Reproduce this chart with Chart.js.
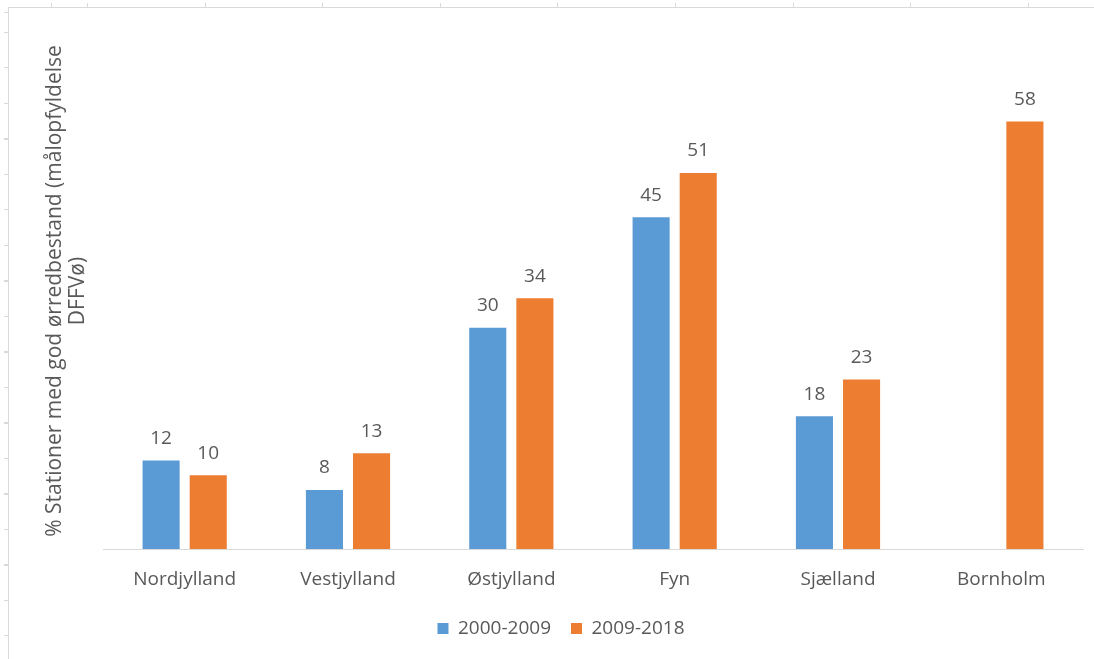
<!DOCTYPE html>
<html>
<head>
<meta charset="utf-8">
<script src="https://cdn.jsdelivr.net/npm/chart.js@4/dist/chart.umd.min.js"></script>
<style>
  html, body { margin: 0; padding: 0; background: #fff; }
  #wrap { position: relative; width: 1094px; height: 659px; overflow: hidden; }
  /* sheet frame lines behind the chart */
  #frame { position: absolute; left: 8px; top: 7px; right: 0; bottom: 0;
           border-left: 1px solid #d9d9d9; border-top: 1px solid #d9d9d9; }
  #ticksLeft { position: absolute; left: 4px; top: 0; width: 4px; height: 659px;
               background: repeating-linear-gradient(to bottom, #d9d9d9 0 1px, transparent 1px 35.5px);
               background-position: 0 32px; }
  #ticksTop { position: absolute; top: 3px; left: 0; height: 4px; width: 1094px;
              background: repeating-linear-gradient(to right, #d9d9d9 0 1px, transparent 1px 117.6px);
              background-position: 87px 0; }
  #chart { position: absolute; left: 0; top: 0; }
</style>
</head>
<body>
<div id="wrap">
  <div id="ticksLeft"></div>
  <div id="ticksTop"></div>
  <div id="frame"></div>
  <canvas id="chart" width="1094" height="659"></canvas>
</div>
<script>
// --- data ---
const regions = ['Nordjylland', 'Vestjylland', 'Østjylland', 'Fyn', 'Sjælland', 'Bornholm'];
const period1 = [12, 8, 30, 45, 18, null];
const period2 = [10, 13, 34, 51, 23, 58];
const seriesNames = ['2000-2009', '2009-2018'];
const yTitle = ['% Stationer med god ørredbestand (målopfyldelse', 'DFFVø)'];

const textGrey = '#595959';
const fontFamily = '"Open Sans", "DejaVu Sans", sans-serif';

// value labels above each bar
const barLabels = {
  id: 'barLabels',
  afterDatasetsDraw(chart) {
    const ctx = chart.ctx;
    ctx.save();
    ctx.font = '19px ' + fontFamily;
    ctx.fillStyle = textGrey;
    ctx.textAlign = 'center';
    ctx.textBaseline = 'middle';
    chart.data.datasets.forEach((ds, i) => {
      chart.getDatasetMeta(i).data.forEach((bar, j) => {
        const v = ds.data[j];
        if (v === null || v === undefined) return;
        ctx.fillText(String(v), bar.x, bar.y - 22);
      });
    });
    ctx.restore();
  }
};

new Chart(document.getElementById('chart'), {
  type: 'bar',
  data: {
    labels: regions,
    datasets: [
      { label: seriesNames[0], data: period1, backgroundColor: '#5b9bd5' },
      { label: seriesNames[1], data: period2, backgroundColor: '#ed7d31' }
    ]
  },
  options: {
    responsive: false,
    animation: false,
    layout: { padding: { left: 39, right: 11, top: 33, bottom: 11 } },
    datasets: {
      bar: { categoryPercentage: 0.577, barPercentage: 0.787 }
    },
    plugins: {
      legend: {
        position: 'bottom',
        labels: {
          boxWidth: 11, boxHeight: 11, padding: 20,
          color: textGrey,
          font: { family: fontFamily, size: 19 }
        }
      },
      tooltip: { enabled: false }
    },
    scales: {
      x: {
        grid: { display: false, drawTicks: false },
        border: { color: '#d9d9d9', width: 1 },
        ticks: { color: textGrey, padding: 19, font: { family: fontFamily, size: 19 } },
        afterFit(scale) { scale.height = 50; }
      },
      y: {
        min: 0,
        max: 70,
        grid: { display: false },
        border: { display: false },
        ticks: { display: false },
        title: {
          display: true,
          text: yTitle,
          align: 'center',
          color: textGrey,
          font: { family: fontFamily, size: 21, lineHeight: 1.1 },
          padding: { top: 4, bottom: 4 }
        },
        afterFit(scale) { scale.width = 64; }
      }
    }
  },
  plugins: [barLabels]
});
</script>
</body>
</html>
